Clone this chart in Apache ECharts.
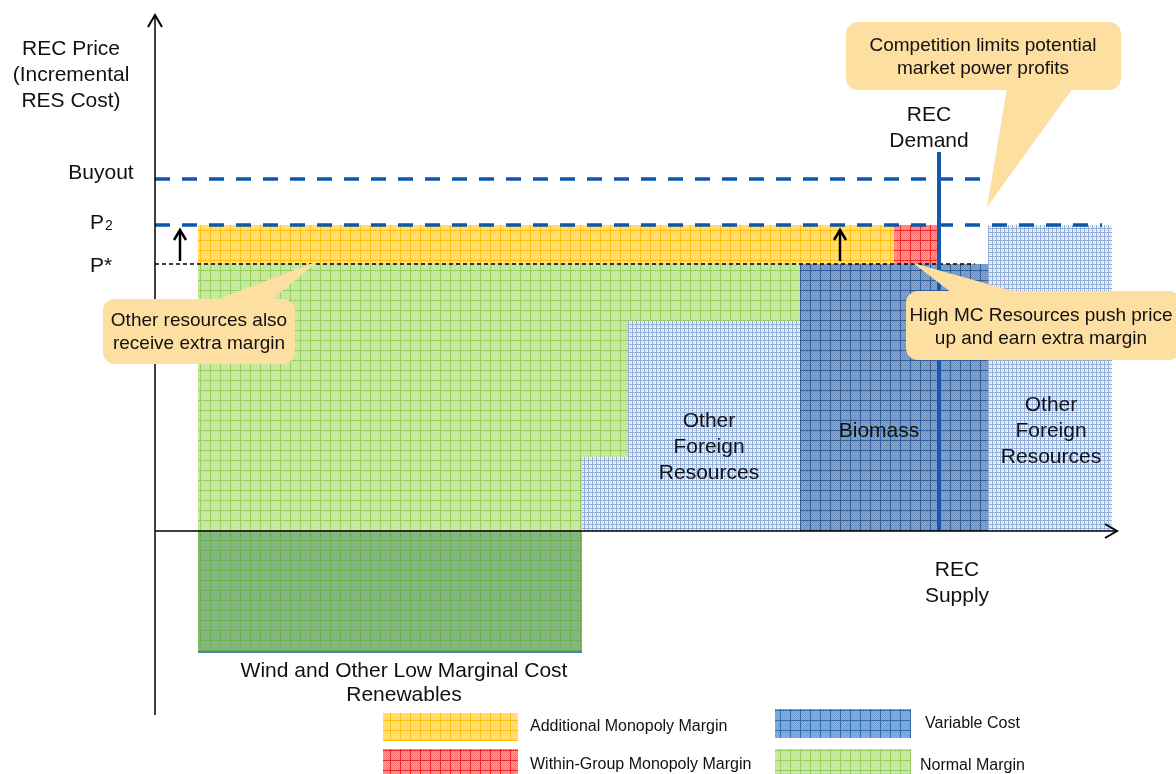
<!DOCTYPE html>
<html><head><meta charset="utf-8">
<script src="https://cdn.jsdelivr.net/npm/echarts@6/dist/echarts.min.js"></script>
<style>html,body{margin:0;padding:0;background:#fff}#c{width:1176px;height:774px}</style>
</head><body><div id="c"></div>
<script>
// ---------------- data (quantity units on x, price units on y) ----------------
const blockNames = ['Wind - normal margin', 'Wind - below zero', 'Other foreign A - normal margin', 'Other foreign A',
  'Other foreign B - normal margin', 'Other foreign B', 'Biomass', 'Additional monopoly margin',
  'Within-group monopoly margin', 'Other foreign C'];
const qStart = [4.3, 4.3, 42.7, 42.7, 47.3, 47.3, 64.5, 4.3, 73.9, 83.3];
const qEnd   = [42.7, 42.7, 47.3, 47.3, 64.5, 64.5, 83.3, 73.9, 78.4, 95.7];
const pLow   = [0, -12.1, 7.4, 0, 21.0, 0, 0, 26.7, 26.7, 0];
const pHigh  = [26.7, 0, 26.7, 7.4, 26.7, 21.0, 26.7, 30.6, 30.6, 30.6];
const blockKind = ['normal', 'lowcost', 'normal', 'foreign', 'normal', 'foreign', 'variable', 'additional', 'within', 'foreign'];

const priceNames = ['Buyout', 'P2', 'P*'];
const priceValues = [35.2, 30.6, 26.7];
const priceLineEnd = [83.3, 94.7, 82.0];

const demandQ = 78.4;
const demandTop = 37.9;
const arrowQ = [2.5, 68.5];

const qMin = 0, qMax = 96.2, pMin = -18.4, pMax = 51.6;

const legendNames = ['Additional Monopoly Margin', 'Within-Group Monopoly Margin', 'Variable Cost', 'Normal Margin'];
const legendKinds = ['additional', 'within', 'legendVariable', 'normal'];

// ---------------- patterns ----------------
function gridPattern(bg, fine, line, cell) {
  const c = document.createElement('canvas'); c.width = cell; c.height = cell;
  const g = c.getContext('2d');
  g.fillStyle = bg; g.fillRect(0, 0, cell, cell);
  g.fillStyle = fine;
  for (let y = 0; y < cell; y++) for (let x = (y % 2); x < cell; x += 2) g.fillRect(x, y, 1, 1);
  g.fillStyle = line; g.fillRect(0, 0, cell, 1); g.fillRect(0, 0, 1, cell);
  return { image: c, repeat: 'repeat' };
}
function finePattern(bg, line, dot) {
  const cell = 4;
  const c = document.createElement('canvas'); c.width = cell; c.height = cell;
  const g = c.getContext('2d');
  g.fillStyle = bg; g.fillRect(0, 0, cell, cell);
  g.fillStyle = line; g.fillRect(0, 0, cell, 1); g.fillRect(0, 0, 1, cell);
  g.fillStyle = dot; g.fillRect(2, 2, 1, 1);
  return { image: c, repeat: 'repeat' };
}
const fills = {
  normal: gridPattern('#D3EBB5', '#C0E09A', '#97CF60', 10),
  lowcost: gridPattern('#90BC8D', '#7AAD7A', '#6DB14E', 10),
  variable: gridPattern('#8AA7CD', '#6E8EBA', '#305D9B', 10),
  legendVariable: gridPattern('#8EB1DC', '#739CD0', '#2E6EB0', 10),
  additional: gridPattern('#FFE39A', '#FFD666', '#FFC213', 10),
  within: gridPattern('#FF9C9C', '#FF7676', '#F42727', 10),
  foreign: finePattern('#EEF2F9', '#93ACD3', '#B6C8E4')
};

const FONT = '"Liberation Sans", Arial, Helvetica, sans-serif';
const calloutFill = '#FDDFA1';

// ---------------- chart ----------------
const chart = echarts.init(document.getElementById('c'), null, { renderer: 'canvas' });

const blockData = qStart.map((_, i) => [qStart[i], qEnd[i], pLow[i], pHigh[i], i]);
const priceData = priceValues.map((v, i) => [0, priceLineEnd[i], v, i]);

function chevronUp(p) {
  return { type: 'polyline', shape: { points: [[p[0] - 7, p[1] + 12], [p[0], p[1]], [p[0] + 7, p[1] + 12]] },
    style: { stroke: '#000', lineWidth: 2, fill: null } };
}

const texts = [];
function addText(x, y, text, size, align, lh) {
  texts.push({ type: 'text', x: x, y: y, z: 101,
    style: { text: text, font: size + 'px ' + FONT, fill: '#111', textAlign: align || 'center',
      textVerticalAlign: 'middle', lineHeight: lh || Math.round(size * 1.24) } });
}
addText(71, 75, 'REC Price\n(Incremental\nRES Cost)', 21, 'center', 26);
addText(101, 173, priceNames[0], 21);
addText(97, 223, 'P', 21);
addText(109, 226, '2', 14);
addText(101, 266, priceNames[2], 21);
addText(929, 128, 'REC\nDemand', 21, 'center', 26);
addText(957, 583, 'REC\nSupply', 21, 'center', 26);
addText(709, 447, 'Other\nForeign\nResources', 21, 'center', 26);
addText(1051, 431, 'Other\nForeign\nResources', 21, 'center', 26);
addText(879, 431, 'Biomass', 21);
addText(404, 683, 'Wind and Other Low Marginal Cost\nRenewables', 21, 'center', 24);

const callouts = [
  { box: [846, 22, 275, 68], tail: [[1007, 88], [1073, 88], [987, 207]], cx: 983, cy: 57, text: 'Competition limits potential\nmarket power profits' },
  { box: [906, 291, 275, 69], tail: [[913, 263], [1020, 293], [952, 293]], cx: 1041, cy: 327.5, text: 'High MC Resources push price\nup and earn extra margin' },
  { box: [103, 299, 192, 65], tail: [[318, 261], [270, 301], [213, 301]], cx: 199, cy: 332.5, text: 'Other resources also\nreceive extra margin' }
];
const calloutEls = [];
callouts.forEach(c => {
  calloutEls.push({ type: 'polygon', z: 100, shape: { points: c.tail }, style: { fill: calloutFill } });
  calloutEls.push({ type: 'rect', z: 100, shape: { x: c.box[0], y: c.box[1], width: c.box[2], height: c.box[3], r: 12 }, style: { fill: calloutFill } });
  calloutEls.push({ type: 'text', z: 101, x: c.cx, y: c.cy,
    style: { text: c.text, font: '19px ' + FONT, fill: '#111', textAlign: 'center', textVerticalAlign: 'middle', lineHeight: 23 } });
});

const legendBoxes = [[383, 713, 135, 28], [383, 749, 135, 26], [775, 709, 136, 29], [775, 749, 136, 26]];
const legendTextPos = [[530, 727], [530, 765], [925, 724], [920, 766]];
const legendEls = [];
legendNames.forEach((n, i) => {
  const b = legendBoxes[i];
  legendEls.push({ type: 'rect', z: 100, shape: { x: b[0], y: b[1], width: b[2], height: b[3] }, style: { fill: fills[legendKinds[i]] } });
  legendEls.push({ type: 'text', z: 101, x: legendTextPos[i][0], y: legendTextPos[i][1],
    style: { text: n, font: '16px ' + FONT, fill: '#111', textAlign: 'left', textVerticalAlign: 'middle' } });
});

const option = {
  animation: false,
  backgroundColor: '#fff',
  grid: { left: 155, right: 59, top: 15, bottom: 59 },
  xAxis: { type: 'value', min: qMin, max: qMax, show: false },
  yAxis: { type: 'value', min: pMin, max: pMax, show: false },
  series: [
    {
      type: 'custom', name: 'blocks', z: 2, silent: true,
      data: blockData,
      encode: { x: [0, 1], y: [2, 3] },
      renderItem: function (params, api) {
        const i = api.value(4);
        const a = api.coord([api.value(0), api.value(3)]);
        const b = api.coord([api.value(1), api.value(2)]);
        const kind = blockKind[i];
        const children = [{ type: 'rect', shape: { x: a[0], y: a[1], width: b[0] - a[0], height: b[1] - a[1] },
          style: { fill: fills[kind] } }];
        if (kind === 'lowcost') {
          children.push({ type: 'line', shape: { x1: a[0], y1: b[1], x2: b[0], y2: b[1] },
            style: { stroke: '#4F7FBA', lineWidth: 2 } });
        }
        return { type: 'group', children: children };
      }
    },
    {
      type: 'custom', name: 'price levels', z: 4, silent: true,
      data: priceData,
      renderItem: function (params, api) {
        const i = api.value(3);
        const a = api.coord([api.value(0), api.value(2)]);
        const b = api.coord([api.value(1), api.value(2)]);
        const isStar = i === 2;
        return { type: 'line', z2: isStar ? 1 : 2,
          shape: { x1: a[0], y1: a[1], x2: b[0], y2: b[1] },
          style: isStar ? { stroke: '#000', lineWidth: 1.3, lineDash: [4, 3] }
                        : { stroke: '#0C58A8', lineWidth: 3.5, lineDash: [15, 12] } };
      }
    },
    {
      type: 'custom', name: 'REC demand', z: 5, silent: true,
      data: [[demandQ, 0, demandTop]],
      renderItem: function (params, api) {
        const a = api.coord([api.value(0), api.value(1)]);
        const b = api.coord([api.value(0), api.value(2)]);
        return { type: 'line', shape: { x1: a[0], y1: a[1], x2: b[0], y2: b[1] },
          style: { stroke: '#1659AC', lineWidth: 4 } };
      }
    },
    {
      type: 'custom', name: 'price rise arrows', z: 6, silent: true,
      data: arrowQ.map(q => [q]),
      renderItem: function (params, api) {
        const q = api.value(0);
        const a = api.coord([q, priceValues[2] + 0.3]);
        const b = api.coord([q, priceValues[1] - 0.5]);
        return { type: 'group', children: [
          { type: 'line', shape: { x1: a[0], y1: a[1], x2: b[0], y2: b[1] + 1 }, style: { stroke: '#000', lineWidth: 2.5 } },
          { type: 'polyline', shape: { points: [[b[0] - 6, b[1] + 10], [b[0], b[1]], [b[0] + 6, b[1] + 10]] },
            style: { stroke: '#000', lineWidth: 2.5, fill: null } }
        ] };
      }
    },
    {
      type: 'custom', name: 'axes', z: 6, silent: true,
      data: [[0]],
      renderItem: function (params, api) {
        const o = api.coord([qMin, 0]);
        const yb = api.coord([qMin, pMin]);
        const yt = api.coord([qMin, pMax]);
        const xr = api.coord([qMax, 0]);
        return { type: 'group', children: [
          { type: 'line', shape: { x1: yb[0], y1: yb[1], x2: yt[0], y2: yt[1] }, style: { stroke: '#000', lineWidth: 1.5 } },
          { type: 'line', shape: { x1: o[0], y1: o[1], x2: xr[0], y2: xr[1] }, style: { stroke: '#000', lineWidth: 1.5 } },
          chevronUp(yt),
          { type: 'polyline', shape: { points: [[xr[0] - 12, xr[1] - 7], [xr[0], xr[1]], [xr[0] - 12, xr[1] + 7]] },
            style: { stroke: '#000', lineWidth: 2, fill: null } }
        ] };
      }
    }
  ],
  graphic: { elements: calloutEls.concat(legendEls).concat(texts) }
};
chart.setOption(option);
</script>
</body></html>
